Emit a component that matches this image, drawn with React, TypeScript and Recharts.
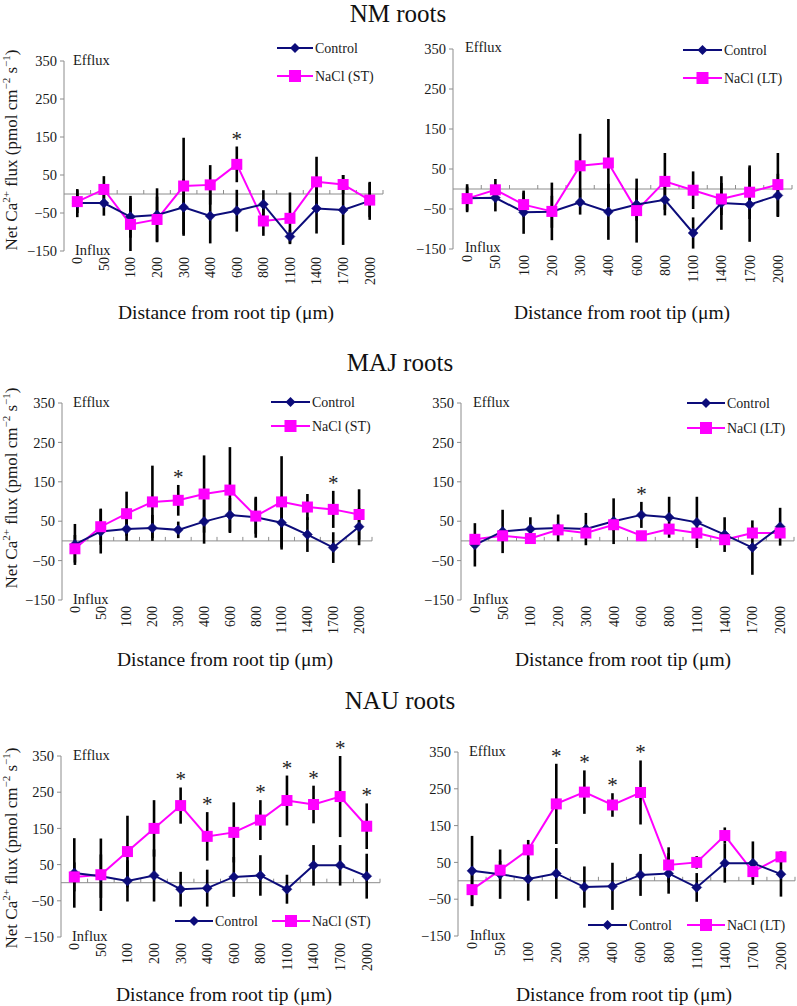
import React from 'react';
import { ComposedChart, Line, XAxis, YAxis, ErrorBar, ReferenceLine } from 'recharts';

const FONT = "'Liberation Serif', 'DejaVu Serif', 'Times New Roman', Times, serif";
const NAVY = '#0c0c7a';
const MAGENTA = '#ff00ff';
const GRAY = '#8c8c8c';
const INK = '#1a1a1a';

// ---------- data ----------
const categories = ['0', '50', '100', '200', '300', '400', '600', '800', '1100', '1400', '1700', '2000'];
const yTicks = [-150, -50, 50, 150, 250, 350];

// NM roots, short term
const nmStControl = [-24, -24, -60, -55, -35, -58, -44, -27, -112, -38, -42, -18];
const nmStControlErr = [37, 33, 55, 70, 75, 72, 55, 37, 18, 66, 92, 50];
const nmStNaCl = [-20, 12, -80, -67, 21, 24, 78, -71, -64, 32, 25, -16];
const nmStNaClErr = [30, 35, 70, 60, 127, 52, 47, 39, 68, 66, 25, 45];
const nmStSig = ['600'];

// NM roots, long term
const nmLtControl = [-23, -22, -58, -57, -33, -57, -39, -27, -110, -35, -39, -16];
const nmLtControlErr = [35, 34, 54, 40, 31, 70, 40, 39, 39, 67, 93, 54];
const nmLtNaCl = [-24, -2, -39, -56, 58, 65, -54, 19, -3, -25, -8, 11];
const nmLtNaClErr = [30, 27, 30, 72, 80, 110, 80, 71, 47, 40, 67, 79];
const nmLtSig: string[] = [];

// MAJ roots, short term
const majStControl = [-9, 24, 30, 33, 28, 49, 66, 60, 46, 16, -17, 36];
const majStControlErr = [52, 56, 30, 33, 21, 56, 43, 52, 68, 44, 39, 47];
const majStNaCl = [-20, 36, 69, 99, 103, 119, 129, 63, 99, 86, 80, 67];
const majStNaClErr = [35, 46, 56, 92, 39, 98, 109, 45, 116, 33, 47, 64];
const majStSig = ['300', '1700'];

// MAJ roots, long term
const majLtControl = [-10, 24, 30, 33, 30, 50, 66, 60, 47, 16, -17, 36];
const majLtControlErr = [55, 55, 30, 34, 41, 58, 33, 52, 65, 44, 69, 48];
const majLtNaCl = [4, 13, 6, 28, 20, 41, 13, 30, 20, 3, 20, 20];
const majLtNaClErr = [12, 12, 10, 12, 12, 15, 8, 12, 12, 10, 15, 12];
const majLtSig = ['600'];

// NAU roots, short term
const nauStControl = [27, 18, 5, 20, -18, -15, 16, 20, -18, 48, 48, 18];
const nauStControlErr = [96, 60, 57, 72, 48, 51, 55, 56, 40, 56, 56, 62];
const nauStNaCl = [16, 22, 86, 150, 213, 128, 139, 173, 227, 216, 238, 156];
const nauStNaClErr = [40, 100, 99, 78, 50, 67, 83, 55, 69, 52, 112, 63];
const nauStSig = ['300', '400', '800', '1100', '1400', '1700', '2000'];

// NAU roots, long term
const nauLtControl = [27, 18, 5, 20, -17, -15, 16, 20, -18, 48, 48, 18];
const nauLtControlErr = [95, 67, 59, 69, 56, 64, 57, 55, 39, 53, 59, 61];
const nauLtNaCl = [-24, 29, 84, 209, 241, 206, 240, 43, 50, 123, 25, 65];
const nauLtNaClErr = [45, 25, 27, 109, 59, 32, 87, 48, 17, 22, 20, 15];
const nauLtSig = ['200', '300', '400', '600'];

// ---------- helpers ----------
type Cfg = {
  x0: number; x1: number; y0: number; y1: number;
  control: number[]; controlErr: number[]; nacl: number[]; naclErr: number[]; sig: string[];
};

function rowsOf(c: Cfg) {
  return categories.map((d, i) => {
    const top = Math.max(c.control[i] + c.controlErr[i], c.nacl[i] + c.naclErr[i]);
    return {
      d,
      c: c.control[i],
      ce: c.controlErr[i],
      n: c.nacl[i],
      ne: c.naclErr[i],
      star: c.sig.includes(d) ? top : null,
    };
  });
}

const fmt = (v: number) => (v < 0 ? '\u2212' + Math.abs(v) : String(v));

const diamondDot = (props: any) => {
  const { cx, cy, index } = props;
  if (cx == null || cy == null) return <g key={`d${index}`} />;
  const r = 5;
  return (
    <polygon key={`d${index}`} points={`${cx},${cy - r} ${cx + r},${cy} ${cx},${cy + r} ${cx - r},${cy}`} fill={NAVY} stroke={NAVY} strokeWidth={0.5} />
  );
};

const squareDot = (props: any) => {
  const { cx, cy, index } = props;
  if (cx == null || cy == null) return <g key={`s${index}`} />;
  const h = 5.5;
  return <rect key={`s${index}`} x={cx - h} y={cy - h} width={2 * h} height={2 * h} fill={MAGENTA} />;
};

const starDot = (props: any) => {
  const { cx, cy, index, payload } = props;
  if (cx == null || cy == null || payload == null || payload.star == null) return <g key={`a${index}`} />;
  return (
    <text key={`a${index}`} x={cx} y={cy - 1} textAnchor="middle" fontSize={21} fontFamily={FONT} fill="#222">
      *
    </text>
  );
};

const ZeroAxis = (props: any) => {
  const { x1, x2, y1 } = props;
  const a = Math.min(x1, x2);
  const b = Math.max(x1, x2);
  const step = (b - a) / categories.length;
  const ts: number[] = [];
  for (let i = 1; i <= categories.length; i++) ts.push(a + i * step);
  return (
    <g>
      <line x1={a} y1={y1} x2={b} y2={y1} stroke={GRAY} strokeWidth={1} />
      {ts.map((t, i) => (
        <line key={i} x1={t} x2={t} y1={y1} y2={y1 - 4} stroke={GRAY} strokeWidth={1} />
      ))}
    </g>
  );
};

const XTick = (props: any) => {
  const { x, y, payload } = props;
  const yy = y + 6;
  return (
    <text x={x} y={yy} transform={`rotate(-90, ${x}, ${yy})`} textAnchor="end" dy="0.35em" fontSize={14} fontFamily={FONT} fill={INK}>
      {payload.value}
    </text>
  );
};

function Panel({ cfg }: { cfg: Cfg }) {
  const YW = 45;
  const MT = 20;
  const XH = 50;
  const MR = 2;
  const plotW = cfg.x1 - cfg.x0;
  const plotH = cfg.y1 - cfg.y0;
  const W = plotW + YW + MR;
  const H = MT + plotH + XH;
  const pad = plotW / (2 * categories.length);
  const data = rowsOf(cfg);
  return (
    <div style={{ position: 'absolute', left: cfg.x0 - YW, top: cfg.y0 - MT }}>
      <ComposedChart width={W} height={H} data={data} margin={{ top: MT, right: MR, bottom: 0, left: 0 }}>
        <XAxis
          dataKey="d"
          type="category"
          interval={0}
          axisLine={false}
          tickLine={false}
          tickSize={0}
          tickMargin={0}
          height={XH}
          padding={{ left: pad, right: pad }}
          tick={XTick}
        />
        <YAxis
          type="number"
          domain={[-150, 350]}
          ticks={yTicks}
          interval={0}
          width={YW}
          axisLine={{ stroke: GRAY }}
          tickLine={{ stroke: GRAY }}
          tickSize={4}
          tickMargin={3}
          tick={{ fontSize: 14.5, fill: INK, fontFamily: FONT }}
          tickFormatter={fmt}
        />
        <ReferenceLine y={0} stroke={GRAY} shape={ZeroAxis} />
        <Line dataKey="n" stroke={MAGENTA} strokeWidth={2} dot={false} activeDot={false} isAnimationActive={false} />
        <Line dataKey="c" stroke={NAVY} strokeWidth={2} dot={false} activeDot={false} isAnimationActive={false} />
        <Line dataKey="c" stroke="none" dot={false} activeDot={false} isAnimationActive={false}>
          <ErrorBar dataKey="ce" width={0} stroke="#000" strokeWidth={2.6} direction="y" />
        </Line>
        <Line dataKey="n" stroke="none" dot={false} activeDot={false} isAnimationActive={false}>
          <ErrorBar dataKey="ne" width={0} stroke="#000" strokeWidth={2.6} direction="y" />
        </Line>
        <Line dataKey="c" stroke="none" dot={diamondDot} activeDot={false} isAnimationActive={false} />
        <Line dataKey="n" stroke="none" dot={squareDot} activeDot={false} isAnimationActive={false} />
        <Line dataKey="star" stroke="none" dot={starDot} activeDot={false} isAnimationActive={false} connectNulls={false} />
      </ComposedChart>
    </div>
  );
}

const panels: Cfg[] = [
  { x0: 64, x1: 383, y0: 61, y1: 251, control: nmStControl, controlErr: nmStControlErr, nacl: nmStNaCl, naclErr: nmStNaClErr, sig: nmStSig },
  { x0: 453, x1: 792, y0: 49, y1: 249, control: nmLtControl, controlErr: nmLtControlErr, nacl: nmLtNaCl, naclErr: nmLtNaClErr, sig: nmLtSig },
  { x0: 62, x1: 372, y0: 403, y1: 600, control: majStControl, controlErr: majStControlErr, nacl: majStNaCl, naclErr: majStNaClErr, sig: majStSig },
  { x0: 461, x1: 794, y0: 403, y1: 600, control: majLtControl, controlErr: majLtControlErr, nacl: majLtNaCl, naclErr: majLtNaClErr, sig: majLtSig },
  { x0: 61, x1: 380, y0: 756, y1: 937, control: nauStControl, controlErr: nauStControlErr, nacl: nauStNaCl, naclErr: nauStNaClErr, sig: nauStSig },
  { x0: 458, x1: 795, y0: 752, y1: 936, control: nauLtControl, controlErr: nauLtControlErr, nacl: nauLtNaCl, naclErr: nauLtNaClErr, sig: nauLtSig },
];

// ---------- overlay text ----------
const titles = [
  { text: 'NM roots', x: 398, y: 22 },
  { text: 'MAJ roots', x: 400, y: 371 },
  { text: 'NAU roots', x: 400, y: 709 },
];
const xTitles = [
  { x: 226, y: 319 }, { x: 622, y: 319 },
  { x: 225, y: 666 }, { x: 623, y: 666 },
  { x: 224, y: 1001 }, { x: 624, y: 1001 },
];
const yTitles = [{ x: 17, y: 150 }, { x: 17, y: 488 }, { x: 17, y: 848 }];
const fluxNotes = [
  { t: 'Efflux', x: 73, y: 65 }, { t: 'Influx', x: 75, y: 255 },
  { t: 'Efflux', x: 465, y: 52 }, { t: 'Influx', x: 465, y: 252 },
  { t: 'Efflux', x: 73, y: 407 }, { t: 'Influx', x: 73, y: 604 },
  { t: 'Efflux', x: 473, y: 407 }, { t: 'Influx', x: 473, y: 604 },
  { t: 'Efflux', x: 73, y: 760 }, { t: 'Influx', x: 72, y: 941 },
  { t: 'Efflux', x: 469, y: 756 }, { t: 'Influx', x: 470, y: 940 },
];
type LegItem = { kind: 'c' | 'n'; label: string; a: number; b: number; y: number; tx: number };
const legends: LegItem[] = [
  { kind: 'c', label: 'Control', a: 277, b: 313, y: 48, tx: 315 },
  { kind: 'n', label: 'NaCl (ST)', a: 277, b: 313, y: 76, tx: 315 },
  { kind: 'c', label: 'Control', a: 683, b: 722, y: 50, tx: 724 },
  { kind: 'n', label: 'NaCl (LT)', a: 683, b: 722, y: 78, tx: 724 },
  { kind: 'c', label: 'Control', a: 271, b: 310, y: 402, tx: 312 },
  { kind: 'n', label: 'NaCl (ST)', a: 271, b: 310, y: 426, tx: 312 },
  { kind: 'c', label: 'Control', a: 687, b: 725, y: 403, tx: 727 },
  { kind: 'n', label: 'NaCl (LT)', a: 687, b: 725, y: 428, tx: 727 },
  { kind: 'c', label: 'Control', a: 175, b: 213, y: 921, tx: 215 },
  { kind: 'n', label: 'NaCl (ST)', a: 272, b: 310, y: 921, tx: 312 },
  { kind: 'c', label: 'Control', a: 588, b: 627, y: 925, tx: 629 },
  { kind: 'n', label: 'NaCl (LT)', a: 687, b: 725, y: 925, tx: 727 },
];

function LegendMark({ it }: { it: LegItem }) {
  const m = (it.a + it.b) / 2;
  const col = it.kind === 'c' ? NAVY : MAGENTA;
  return (
    <g>
      <line x1={it.a} x2={it.b} y1={it.y} y2={it.y} stroke={col} strokeWidth={2} />
      {it.kind === 'c' ? (
        <polygon points={`${m},${it.y - 5} ${m + 5},${it.y} ${m},${it.y + 5} ${m - 5},${it.y}`} fill={NAVY} />
      ) : (
        <rect x={m - 6} y={it.y - 6} width={12} height={12} fill={MAGENTA} />
      )}
      <text x={it.tx} y={it.y + 5} fontSize={14} fontFamily={FONT} fill={INK}>
        {it.label}
      </text>
    </g>
  );
}

function YTitle({ x, y }: { x: number; y: number }) {
  return (
    <text x={x} y={y} transform={`rotate(-90, ${x}, ${y})`} textAnchor="middle" fontSize={17} fontFamily={FONT} fill={INK}>
      <tspan>Net Ca</tspan>
      <tspan fontSize={11} dy={-7}>2+</tspan>
      <tspan dy={7}> flux (pmol cm</tspan>
      <tspan fontSize={11} dy={-7}>{'\u22122'}</tspan>
      <tspan dy={7}> s</tspan>
      <tspan fontSize={11} dy={-7}>{'\u22121'}</tspan>
      <tspan dy={7}>)</tspan>
    </text>
  );
}

export default function App() {
  return (
    <div style={{ position: 'absolute', left: 0, top: 0, width: 797, height: 1006, background: '#fff', overflow: 'hidden', fontFamily: FONT }}>
      {panels.map((p, i) => (
        <Panel key={i} cfg={p} />
      ))}
      <svg width={797} height={1006} style={{ position: 'absolute', left: 0, top: 0, pointerEvents: 'none', fontFamily: FONT }}>
        {titles.map((t, i) => (
          <text key={i} x={t.x} y={t.y} textAnchor="middle" fontSize={25} fontFamily={FONT} fill="#111">
            {t.text}
          </text>
        ))}
        {xTitles.map((t, i) => (
          <text key={i} x={t.x} y={t.y} textAnchor="middle" fontSize={19.5} fontFamily={FONT} fill="#111">
            Distance from root tip (μm)
          </text>
        ))}
        {yTitles.map((t, i) => (
          <YTitle key={i} x={t.x} y={t.y} />
        ))}
        {fluxNotes.map((t, i) => (
          <text key={i} x={t.x} y={t.y} fontSize={14.5} fontFamily={FONT} fill={INK}>
            {t.t}
          </text>
        ))}
        {legends.map((it, i) => (
          <LegendMark key={i} it={it} />
        ))}
      </svg>
    </div>
  );
}
